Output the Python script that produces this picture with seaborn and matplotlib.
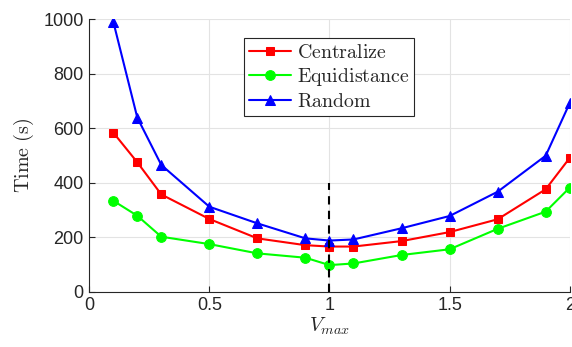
import matplotlib
matplotlib.use("Agg")
import matplotlib.pyplot as plt
import seaborn as sns
import pandas as pd

vmax = [0.1, 0.2, 0.3, 0.5, 0.7, 0.9, 1.0, 1.1, 1.3, 1.5, 1.7, 1.9, 2.0]
centralize = [584, 475, 357, 267, 196, 171, 166, 166, 186, 219, 266, 376, 491]
equidistance = [334, 279, 202, 175, 141, 125, 98, 104, 135, 156, 231, 294, 382]
random_ = [991, 639, 465, 312, 251, 196, 188, 192, 233, 278, 367, 499, 692]
series_names = ["Centralize", "Equidistance", "Random"]
colors = ["#ff0000", "#00ff00", "#0000ff"]
markers = ["s", "o", "^"]
xticks = [0, 0.5, 1, 1.5, 2]
xticklabels = ["0", "0.5", "1", "1.5", "2"]
yticks = [0, 200, 400, 600, 800, 1000]
vline_x = 1.0
vline_top = 400

sns.set_theme(style="white")
plt.rcParams["font.family"] = ["Liberation Sans", "DejaVu Sans"]
plt.rcParams["mathtext.fontset"] = "cm"

df = pd.DataFrame({
    "Vmax": vmax * 3,
    "Time": centralize + equidistance + random_,
    "Method": sum([[n] * len(vmax) for n in series_names], []),
})

fig = plt.figure(figsize=(5.72, 3.47), dpi=100)
ax = fig.add_axes([0.156, 0.159, 0.84, 0.786])

for name, c, m, ms in zip(series_names, colors, markers, [6, 7, 7]):
    sub = df[df["Method"] == name]
    sns.lineplot(data=sub, x="Vmax", y="Time", ax=ax, color=c, marker=m,
                 markersize=ms, markeredgecolor=c, linewidth=1.5,
                 label=r"$\mathrm{" + name + "}$", legend=False)

ax.plot([vline_x, vline_x], [0, vline_top], color="black", linestyle=(0, (4, 3)),
        linewidth=1.5)

ax.set_xlim(0, 2)
ax.set_ylim(0, 1000)
ax.set_xticks(xticks)
ax.set_xticklabels(xticklabels)
ax.set_yticks(yticks)
ax.grid(True, color="#e3e3e3", linewidth=0.8)
ax.set_axisbelow(True)
for s in ["top", "right"]:
    ax.spines[s].set_visible(False)
for s in ["left", "bottom"]:
    ax.spines[s].set_color("#262626")
    ax.spines[s].set_linewidth(0.8)
ax.tick_params(axis="both", direction="in", length=4, width=0.8,
               colors="#262626", labelsize=13, pad=4, left=True, bottom=True)

ax.set_xlabel(r"$V_{max}$", fontsize=14.5, color="#262626", labelpad=1)
ax.set_ylabel(r"$\mathrm{Time\ (s)}$", fontsize=14.5, color="#262626", labelpad=5)

handles, labels = ax.get_legend_handles_labels()
leg = ax.legend(handles, labels, loc="upper left", bbox_to_anchor=(0.322, 0.932),
                fontsize=14.3, frameon=True, fancybox=False, framealpha=1,
                edgecolor="#262626", borderpad=0.25, labelspacing=0.2,
                handlelength=2.1, handletextpad=0.3, borderaxespad=0)
leg.get_frame().set_linewidth(0.8)

fig.savefig("out.png", dpi=100)
